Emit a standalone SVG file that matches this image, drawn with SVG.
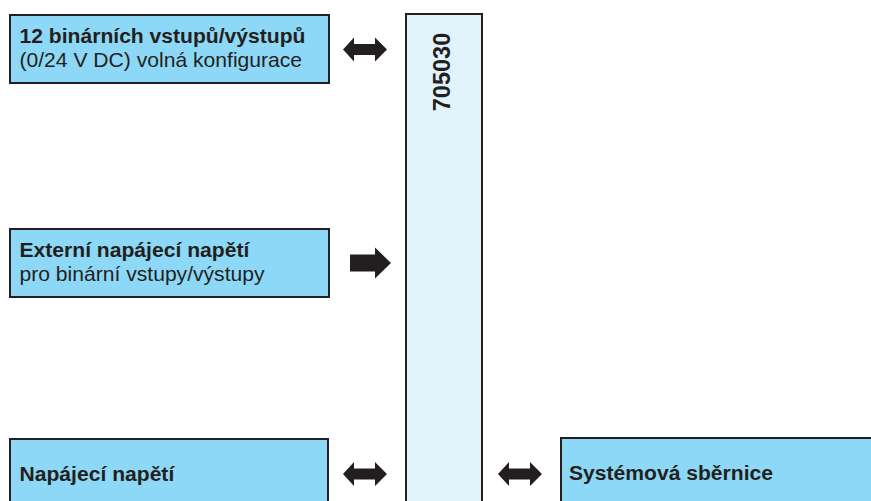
<svg xmlns="http://www.w3.org/2000/svg" xmlns:xlink="http://www.w3.org/1999/xlink" width="871" height="501" viewBox="0 0 871 501">
<style>
.box{fill:#8dd8f6;stroke:#231f20;stroke-width:2}
.bar{fill:#e0f3fb;stroke:#231f20;stroke-width:2}
.t{font-family:"Liberation Sans",Arial,sans-serif;font-size:21.1px;fill:#231f20}
.b{font-weight:bold}
.arr{fill:#231f20}
</style>
<defs>
<polygon id="dbl" points="0,0 11,-12 11,-5.5 32,-5.5 32,-12 44,0 32,12 32,5.5 11,5.5 11,12"/>
</defs>
<rect width="871" height="501" fill="#ffffff"/>
<g id="controller">
<rect class="bar" x="406" y="14" width="76" height="510"/>
<text class="t b" style="font-size:23.5px" text-anchor="middle" transform="translate(450,72) rotate(-90)">705030</text>
</g>
<g id="binary-io">
<rect class="box" x="10" y="15" width="319" height="68"/>
<text class="t b" x="19.5" y="43">12 binárních vstupů/výstupů</text>
<text class="t" x="19.5" y="67">(0/24 V DC) volná konfigurace</text>
</g>
<g id="ext-supply">
<rect class="box" x="10" y="229" width="319" height="68"/>
<text class="t b" x="19.5" y="257">Externí napájecí napětí</text>
<text class="t" x="19.5" y="281">pro binární vstupy/výstupy</text>
</g>
<g id="supply">
<rect class="box" x="10" y="439" width="318" height="100"/>
<text class="t b" x="19.5" y="481">Napájecí napětí</text>
</g>
<g id="system-bus">
<rect class="box" x="561" y="438" width="340" height="100"/>
<text class="t b" x="569" y="480">Systémová sběrnice</text>
</g>
<g id="connectors" class="arr">
<use xlink:href="#dbl" transform="translate(343,49.5)"/>
<polygon points="350,254.5 375,254.5 375,247.5 391,263 375,278.5 375,271.5 350,271.5"/>
<use xlink:href="#dbl" transform="translate(343,474)"/>
<use xlink:href="#dbl" transform="translate(498,474)"/>
</g>
</svg>
